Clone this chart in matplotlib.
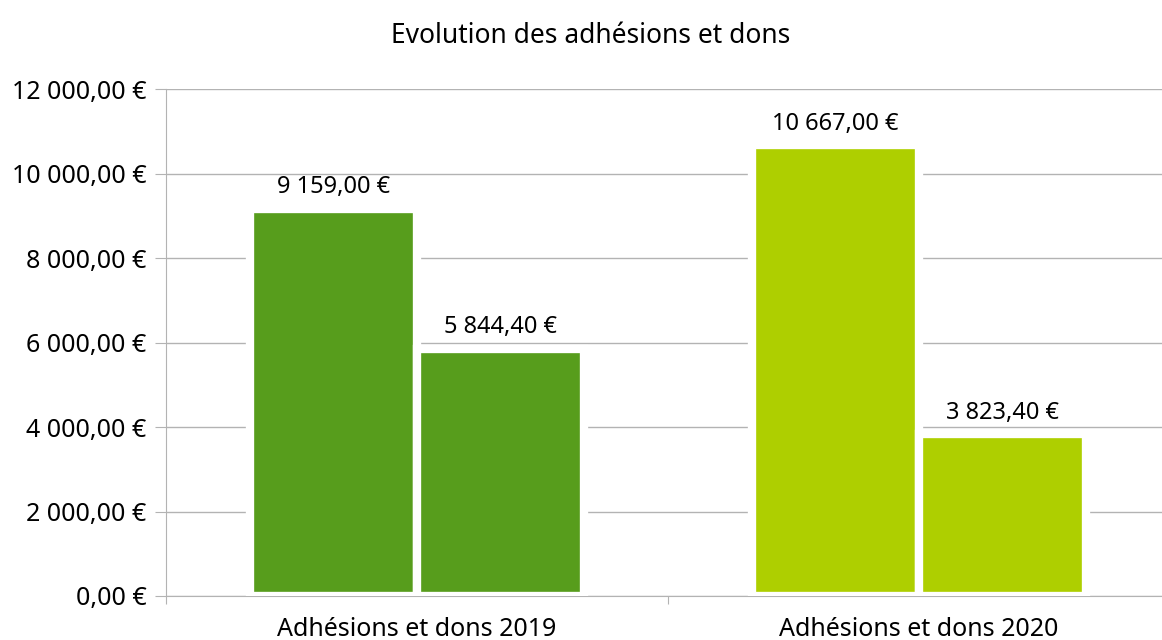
import matplotlib.pyplot as plt
import numpy as np
from matplotlib.font_manager import FontProperties

plt.rcParams['font.family'] = ['Noto Sans', 'DejaVu Sans']

categories = ['Adhésions et dons 2019', 'Adhésions et dons 2020']
adhesions = [9159.00, 10667.00]
dons = [5844.40, 3823.40]
colors = ['#579d1c', '#aecf00']
yticks = [0, 2000, 4000, 6000, 8000, 10000, 12000]


def euro(v):
    s = f'{v:,.2f}'.replace(',', ' ').replace('.', ',')
    return s + ' €'


narrow = FontProperties(family='Noto Sans', stretch='condensed', size=18)
title_fp = FontProperties(family='Noto Sans', stretch='condensed', weight='light', size=19)
label_fp = FontProperties(family='Noto Sans', stretch='normal', size=17)

fig = plt.figure(figsize=(11.62, 6.4), dpi=100)
ax = fig.add_axes([166/1162, 44/640, 1004/1162, 507/640])

x = np.arange(len(categories)) + 0.5
w = 1/3
b1 = ax.bar(x - w/2, adhesions, w, color=colors, edgecolor='white', linewidth=6, zorder=3)
b2 = ax.bar(x + w/2, dons, w, color=colors, edgecolor='white', linewidth=6, zorder=3)

for bars in (b1, b2):
    for r in bars:
        ax.annotate(euro(r.get_height()), (r.get_x() + r.get_width()/2, r.get_height()),
                    xytext=(0, 7), textcoords='offset points', ha='center', va='bottom',
                    fontproperties=label_fp)

ax.set_xlim(0, 2)
ax.set_ylim(0, 12000)
ax.set_yticks(yticks)
ax.set_yticklabels([euro(v) for v in yticks], fontproperties=narrow)
ax.set_xticks([0, 1, 2])
ax.set_xticklabels([])
ax.set_xticks(x, minor=True)
ax.set_xticklabels(categories, minor=True, fontproperties=narrow)
ax.tick_params(axis='x', which='minor', length=0, pad=15)
ax.tick_params(axis='x', which='major', length=6, color='#b3b3b3')
ax.tick_params(axis='y', length=8, color='#b3b3b3', pad=6)

ax.grid(axis='y', color='#b3b3b3', linewidth=1, zorder=0)
ax.set_axisbelow(True)
for s in ['top', 'right']:
    ax.spines[s].set_visible(False)
ax.spines['left'].set_color('#b3b3b3')
ax.spines['bottom'].set_color('#b3b3b3')

fig.suptitle('Evolution des adhésions et dons', x=0.508, y=0.965, va='top',
             fontproperties=title_fp)

fig.savefig('out.png', dpi=100)
